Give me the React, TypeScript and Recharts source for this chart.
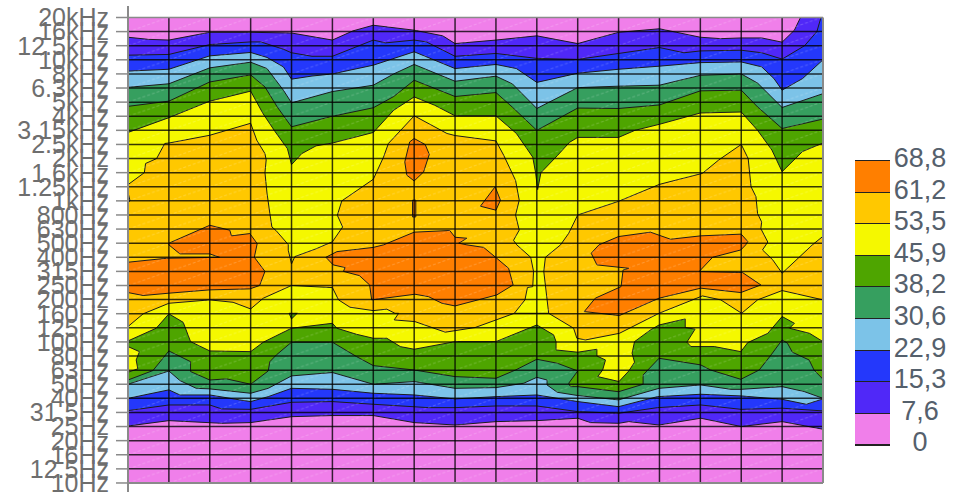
import { ComposedChart, Area, XAxis, YAxis, ReferenceLine } from "recharts";

const freqLabels = [
  "10Hz", "12.5Hz", "16Hz", "20Hz", "25Hz", "31.5Hz", "40Hz", "50Hz", "63Hz", "80Hz", "100Hz",
  "125Hz", "160Hz", "200Hz", "250Hz", "315Hz", "400Hz", "500Hz", "630Hz", "800Hz", "1kHz",
  "1.25kHz", "1.6kHz", "2kHz", "2.5kHz", "3.15kHz", "4kHz", "5kHz", "6.3kHz", "8kHz", "10kHz",
  "12.5kHz", "16kHz", "20kHz",
];
const columns = [1, 2, 3, 4, 5, 6, 7, 8, 9, 10, 11, 12, 13, 14, 15, 16];

const legendLevels = ["68,8", "61,2", "53,5", "45,9", "38,2", "30,6", "22,9", "15,3", "7,6", "0"];
const PINK = "#f07fea";
const PURPLE = "#5028f8";
const BLUE = "#2438fb";
const SKY = "#7cc3e8";
const SEA = "#369f5f";
const GREEN = "#4ea500";
const YELLOW = "#f5f800";
const GOLD = "#ffc800";
const ORANGE = "#ff7f00";
const legendColors = [ORANGE, GOLD, YELLOW, GREEN, SEA, SKY, BLUE, PURPLE, PINK];

// contour lines, [column, frequency index]. top half, painted top to bottom
const topPurple = [[0,31.6],[0.5,31.45],[1,31.4],[2,31.95],[3,31.95],[4,31.9],[5,31.4],[5.5,32.05],[6,32.45],[7,32.1],[7.7,31.7],[8,31.15],[9,31.4],[10,31.7],[11,31.15],[12,31.95],[13,32.2],[14,31.6],[14.5,31.5],[15,31.55],[15.5,31.55],[16,31.25],[16.3,32.1],[16.45,33],[17,33]];
const topBlue = [[0,30.33],[1,30.38],[2,31.08],[3,31.27],[3.25,31.27],[3.8,30.75],[4,30.5],[4.5,30.25],[5,30.25],[6,31.4],[6.3,31.2],[7,31.4],[7.3,31.27],[8,30.25],[9,30.45],[10,30.1],[11,30.03],[12,30.45],[13,30.87],[13.6,30.5],[14,30.63],[15,30.68],[15.5,30.5],[16,30.05],[16.55,31],[16.85,32],[16.95,33],[17,33]];
const topSky = [[0,29.2],[1,29.33],[2,30.28],[3,30.52],[3.4,30.17],[3.8,29.5],[4,28.63],[4.5,28.85],[5,29],[6,29.62],[7,30.57],[8,29.38],[9,29.67],[9.5,29.38],[10,28.4],[11,29.05],[12,29.33],[13,29.55],[14,29.8],[15,29.85],[15.5,29.5],[15.8,28.67],[16,27.85],[16.5,28.67],[17,30]];
const topSea = [[0,28.05],[1,28.3],[2,29.43],[3,29.83],[3.4,29.38],[3.8,27.85],[4,26.95],[5,27.75],[6,28.2],[6.5,29],[7,29.67],[8,28.48],[9,28.84],[9.4,28.3],[10,26.55],[11,28.03],[12,28.13],[13,28.2],[14,28.9],[15,29],[15.4,28.35],[16,26.62],[17,27.6]];
const topGreen = [[0,26.7],[1,27.07],[2,28.43],[3,28.93],[3.35,28.08],[3.65,26.66],[4,25.25],[5,26],[6,26.6],[6.5,27.4],[7,28.55],[8,27.4],[9,27.68],[9.4,26.65],[10,25],[11,26.58],[12,26.55],[13,26.8],[14,27.8],[15,27.85],[15.4,26.66],[16,25.13],[17,25.8]];
const topYellow = [[0,24.85],[1,25.9],[2,27.07],[3,27.78],[3.3,26.2],[3.6,24.9],[3.9,23.7],[4,22.57],[4.25,23.35],[4.6,23.9],[5,24.1],[6,24.85],[6.5,26.43],[7,27.37],[7.5,26.78],[8,26.03],[9,26.03],[9.5,24.78],[9.9,23.1],[9.97,22],[10.02,20.8],[10.1,22],[10.5,23.2],[10.8,24.15],[11,24.5],[12,24.5],[12.4,25],[13,25.43],[14,26.23],[15,26.3],[15.4,25],[15.75,23.6],[16,22.07],[16.5,23.5],[17,24.1]];
const topGold = [[0,21.15],[0.4,22],[0.43,22.65],[0.7,23],[0.9,24.07],[1,24.1],[2,24.65],[3,25.5],[3.15,24.3],[3.35,23.35],[3.38,22.9],[3.35,22],[3.4,20.55],[3.47,19.1],[3.52,18.15],[3.62,17.9],[3.92,16.9],[3.92,16.5],[4,15.53],[4.08,16.05],[4.6,16.6],[5,17.1],[5.25,18.15],[5.12,18.98],[5.23,20],[6,21.53],[6.25,23.1],[6.37,24.07],[7,26.03],[7.8,24.78],[8,24.63],[9,24.25],[9.19,23.23],[9.48,21.45],[9.57,20.05],[9.48,19],[9.57,17.93],[9.43,17.2],[9.51,16.88],[9.85,16],[9.92,15],[9.9,13.92],[9.77,13.85],[9.71,12.98],[9.45,12.03],[9.45,11],[10.29,11],[10.29,12.03],[10.17,15],[10.21,16],[10.58,16.88],[10.78,17.7],[11,19],[12,19.97],[13,21.17],[14.05,21.95],[14.45,22.9],[15,24],[15.17,23],[15.24,21],[15.36,20.3],[15.4,19.1],[15.5,18.5],[15.48,18.03],[15.65,17.08],[15.52,16.52],[15.77,15.82],[16,14.87],[16.74,16.88],[17,17.49]];

// closed orange patches
const orangeLeft = [[0,15.65],[0.94,15.93],[2.24,16],[2,16.24],[1.27,16.24],[1,16.88],[1,17],[2,18.27],[2.49,17.92],[2.53,17.52],[2.98,17.68],[3.16,16.97],[3.09,16],[3.35,15],[3.22,14],[2.98,13.76],[2,13.69],[0.98,13.45],[0.37,13.29],[0,13.5],[0,15.65]];
const orangeMiddle = [[4.84,16],[5.11,16.4],[6,16.7],[6.25,16.88],[7,17.78],[7.87,17.9],[8,17.42],[8.29,17.35],[8.09,17],[8.29,16.88],[8.7,16.7],[9.02,15.93],[9.31,15.22],[9.42,14.04],[9.02,13.33],[8,12.55],[7.68,12.74],[7.35,13.21],[7.02,13.38],[5.96,12.98],[5.91,14.04],[5.66,14.7],[5.27,15],[5.31,15.27],[5.02,15.46],[4.84,16]];
const orangeRight = [[11.33,16.29],[11.52,16.88],[12,17.47],[12.78,17.78],[13.27,17.28],[14.01,17.52],[15,17.64],[15.16,17.12],[15.11,16.88],[14.99,16.52],[14.3,16],[13.97,14.99],[15.03,14.92],[15.48,14.04],[14.99,13.5],[14.01,13.81],[12.99,13.1],[12.02,11.87],[11.16,12.15],[11.43,13.1],[12.06,13.92],[12.11,15.1],[12.25,15.22],[11.47,15.46],[11.33,16.29]];
const orangeSmallA = [[7,24.42],[7.27,23.99],[7.37,23.3],[7.23,22.05],[7,21.41],[6.82,21.82],[6.77,22.76],[6.89,24.18],[7,24.42]];
const orangeSmallB = [[8.98,21],[9.11,20.05],[9,19.34],[8.62,19.62],[8.98,21]];
const orangeSmallC = [[6.96,20.05],[7.04,20.05],[7.04,18.86],[6.96,18.86],[6.96,20.05]];

// bottom half, painted top to bottom
const lowYellow = [[0,11.09],[0.37,11.99],[1,12.74],[2,12.98],[2.57,12.81],[3,12.34],[3.31,13.1],[4,14],[5,13.85],[5.15,12.98],[5.43,12.46],[6,12.22],[6.33,12.32],[6.53,12.03],[6.62,12.03],[6.51,11.56],[7.02,11.44],[7.76,10.69],[8.49,11.02],[9.45,12.03],[10.29,12.03],[10.9,10.97],[10.98,10.26],[11.19,10.14],[12.02,10.61],[12.99,12.03],[14.05,13.26],[14.5,12.98],[15.01,12.03],[15.4,12.98],[16,13.64],[17,12.98]];
const lowGreen = [[0,10.07],[0.69,10.97],[1,11.99],[1.35,11.39],[1.53,10.02],[2,9.36],[3,9.31],[3.31,9.98],[4,10.97],[5,11.32],[5.11,10.97],[5.59,10.54],[6,10.26],[6.33,10.26],[6.66,9.67],[7,9.48],[8,10.02],[9,10.02],[10,11.2],[10.41,10.5],[10.47,10.02],[10.47,9.43],[11,9.27],[11.47,9.48],[11.47,9],[11.68,8.72],[11.61,8.01],[11.49,7.54],[12.01,7.19],[12.25,7.94],[12.39,8.56],[12.33,9.2],[12.39,10.02],[12.78,10.85],[12.99,11.2],[13.63,11.63],[13.63,11.02],[13.87,10.9],[13.67,9.98],[13.77,9.67],[14.34,9.67],[14.99,9.31],[15.16,9.95],[15.65,10.61],[16,11.8],[16.3,11.32],[16.18,10.97],[16.67,10.61],[17,10.02]];
const yellowEdge = [[0,9.67],[0.28,9.31],[0.2,8.72],[0.24,8.09],[0,7.85],[0,9.67]];
const yellowNick = [[0,20.6],[0.05,20],[0,19.9],[0,20.6]];
const greenSpot = [[3.94,12.03],[4.14,12.03],[4,11.63],[3.94,12.03]];
const lowSea = [[0,7.3],[0.61,7.97],[1,9.36],[1.53,8.6],[1.53,7.9],[2,7.3],[2.41,7.38],[3,7],[3.43,7.94],[3.47,8.6],[3.63,9.08],[4,9.98],[5,9.98],[5.59,8.96],[6,8.32],[7,8.01],[8,7.54],[9,7.42],[9.48,8.01],[10,8.77],[10.5,8.49],[11,7.94],[10.78,7.07],[10.82,6.83],[11,6.83],[12,6.47],[12.6,7],[12.6,7.66],[12.99,8.84],[14.01,8.37],[14.25,8.01],[14.99,7.35],[15.44,8.01],[15.73,9.08],[16,10.14],[16.13,9.91],[16.25,9.27],[16.66,8.72],[16.78,8.01],[17,7.35]];
const lowSky = [[0,7],[1,7.94],[1.27,7.26],[1.67,6.71],[2,6.67],[3,6.36],[3.43,6.71],[4,7.59],[5,7.83],[6,7],[7,7.19],[8,6.71],[9,6.76],[9.68,7.07],[10,7.49],[10.25,7.3],[10.25,6.95],[10.5,6.43],[11,6.2],[12,5.89],[12.99,6.71],[14.01,6.95],[14.75,6.64],[15,6.64],[16,6.83],[16.54,6.48],[17,6]];
const lowBlue = [[0,6],[1,6.6],[1.27,6.24],[2,6.24],[2.73,5.89],[3,5.77],[3.43,6.12],[4,6.71],[5,6.64],[6,6.36],[7,6.24],[8,5.96],[9,6.12],[10,6.24],[11,5.77],[12,5.41],[12.95,6.12],[14.01,6.29],[15,6.17],[16,5.93],[16.59,5.58],[17,5.96]];
const lowPurple = [[0,5.13],[1,5.53],[2,5.53],[2.29,5.25],[3,5.22],[4,5.72],[5,5.77],[6,5.58],[7.35,5.34],[8,5.34],[9,5.46],[10,5.46],[11,5.06],[12,4.94],[12.95,5.34],[14.01,5.53],[15,5.22],[16,5.3],[17,5.11]];
const lowPink = [[0,4.04],[1,4.42],[2.29,4.23],[3,4.28],[4,4.7],[5,4.78],[6,4.78],[7,4.28],[8,4.11],[9,4.35],[10,4.42],[11,4.59],[11.31,4.28],[12,4.23],[12.25,4.35],[12.99,4.11],[14.01,4.59],[15,4],[16,4.35],[17,3.81]];
const fullField = [[0,33],[17,33]];

const rows = (pts: number[][]) => pts.map(([x, y]) => ({ x, y }));

// fill everything under a contour down to 10Hz
const mountains: [number[][], string][] = [
  [fullField, PINK],
  [topPurple, PURPLE],
  [topBlue, BLUE],
  [topSky, SKY],
  [topSea, SEA],
  [topGreen, GREEN],
  [topYellow, YELLOW],
  [topGold, GOLD],
];
const patches: [number[][], string][] = [
  [orangeLeft, ORANGE],
  [orangeMiddle, ORANGE],
  [orangeRight, ORANGE],
  [orangeSmallA, ORANGE],
  [orangeSmallB, ORANGE],
  [orangeSmallC, ORANGE],
];
const lowMountains: [number[][], string][] = [
  [lowYellow, YELLOW],
  [lowGreen, GREEN],
  [lowSea, SEA],
  [lowSky, SKY],
  [lowBlue, BLUE],
  [lowPurple, PURPLE],
  [lowPink, PINK],
];
const lowPatches: [number[][], string][] = [
  [yellowEdge, YELLOW],
  [yellowNick, YELLOW],
  [greenSpot, GREEN],
];

const AXIS = "#8a8a8a";
const GRID = "rgba(0,0,0,0.78)";
const FONT = "'Liberation Sans', Arial, sans-serif";

function contour(pts: number[][], fill: string, base: number, key: string) {
  return (
    <Area
      key={key}
      data={rows(pts)}
      dataKey="y"
      type="linear"
      baseValue={base}
      fill={fill}
      fillOpacity={1}
      stroke="#1c1c1c"
      strokeWidth={1}
      dot={false}
      activeDot={false}
      isAnimationActive={false}
    />
  );
}

export default function App() {
  const ticks = freqLabels.map((_, i) => i);
  return (
    <div style={{ position: "absolute", left: 0, top: 0, width: 968, height: 493, overflow: "hidden", background: "#fff" }}>
      <ComposedChart width={968} height={493} margin={{ top: 6, right: 0, bottom: 1, left: 0 }}>
        <defs>
          {/* one faint dashed diagonal per grid cell */}
          <pattern id="hatch" x="128.3" y="17.5" width="40.82" height="14.106" patternUnits="userSpaceOnUse">
            <path d="M0 14.1 L40.82 0" stroke="#fff" strokeOpacity={0.2} strokeWidth={1} strokeDasharray="3 2" />
          </pattern>
        </defs>
        <XAxis dataKey="x" type="number" domain={[0, 17]} hide />
        <YAxis
          type="number"
          domain={[-0.64, 33.815]}
          ticks={ticks}
          interval={0}
          width={128}
          allowDataOverflow
          tickFormatter={(v: number) => freqLabels[v]}
          tick={{ fill: "#6e6e6e", fontSize: 25, fontFamily: FONT }}
          tickSize={12}
          tickMargin={7}
          stroke={AXIS}
          tickLine={{ stroke: AXIS, strokeWidth: 1.5 }}
          axisLine={{ stroke: AXIS, strokeWidth: 2 }}
        />
        <YAxis
          yAxisId="right"
          orientation="right"
          type="number"
          domain={[-0.64, 33.815]}
          ticks={ticks}
          interval={0}
          width={145}
          tick={false}
          tickSize={11}
          axisLine={false}
          tickLine={{ stroke: AXIS, strokeWidth: 1.5 }}
        />
        {mountains.map(([pts, fill], i) => contour(pts, fill, 0, `top${i}`))}
        {patches.map(([pts, fill], i) => contour(pts, fill, pts[0][1], `patch${i}`))}
        {lowMountains.map(([pts, fill], i) => contour(pts, fill, 0, `low${i}`))}
        {lowPatches.map(([pts, fill], i) => contour(pts, fill, pts[0][1], `spot${i}`))}
        <Area
          data={rows(fullField)}
          dataKey="y"
          type="linear"
          baseValue={0}
          fill="url(#hatch)"
          fillOpacity={1}
          stroke="none"
          dot={false}
          activeDot={false}
          isAnimationActive={false}
        />
        {ticks.slice(1, -1).map((t) => (
          <ReferenceLine key={`h${t}`} segment={[{ x: 0, y: t }, { x: 17, y: t }]} stroke={GRID} strokeWidth={1.5} />
        ))}
        {columns.map((c) => (
          <ReferenceLine key={`v${c}`} segment={[{ x: c, y: 0 }, { x: c, y: 33 }]} stroke={GRID} strokeWidth={1.5} />
        ))}
        <ReferenceLine segment={[{ x: 0, y: 33 }, { x: 17, y: 33 }]} stroke={AXIS} strokeWidth={1.5} />
        <ReferenceLine segment={[{ x: 0, y: 0 }, { x: 17, y: 0 }]} stroke={AXIS} strokeWidth={2} />
        <ReferenceLine segment={[{ x: 17, y: 0 }, { x: 17, y: 33 }]} stroke={AXIS} strokeWidth={2} />
      </ComposedChart>
      <div style={{ position: "absolute", left: 855, top: 160, width: 35 }}>
        {legendColors.map((c) => (
          <div key={c} style={{ height: 31.6, boxSizing: "border-box", background: c, borderTop: "1.5px solid #222" }} />
        ))}
        <div style={{ height: 1.5, background: "#222" }} />
      </div>
      {legendLevels.map((label, i) => (
        <div
          key={label}
          style={{
            position: "absolute",
            left: 880,
            width: 80,
            top: 143 + i * 31.6,
            height: 30,
            lineHeight: "30px",
            textAlign: "center",
            fontFamily: FONT,
            fontSize: 27,
            color: "#55606c",
          }}
        >
          {label}
        </div>
      ))}
    </div>
  );
}
